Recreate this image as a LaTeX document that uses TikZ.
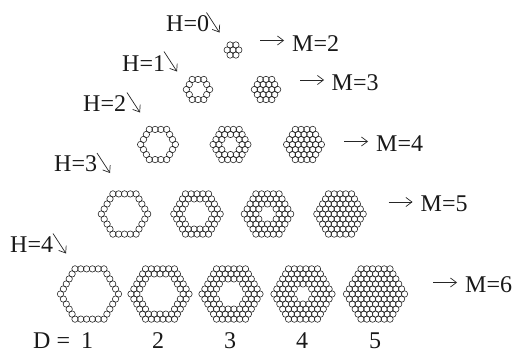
\documentclass[tikz,border=0pt]{standalone}
\usepackage{fontspec}
\usetikzlibrary{arrows.meta}
\setmainfont{Liberation Serif}
\newcommand{\hexcluster}[4]{% cx cy M D
  \pgfmathtruncatemacro{\hexN}{#3-1}
  \pgfmathtruncatemacro{\hexMin}{#4==#3-1 ? 0 : #3-#4}
  \foreach \q in {-\hexN,...,\hexN}{
    \foreach \r in {-\hexN,...,\hexN}{
      \pgfmathtruncatemacro{\ringv}{max(abs(\q),abs(\r),abs(\q+\r))}
      \ifnum\ringv>\hexN\relax\else
        \ifnum\ringv<\hexMin\relax\else
          \pgfmathsetmacro{\px}{#1+5.8*(\q+\r/2)}
          \pgfmathsetmacro{\py}{#2+5.8*0.866*\r}
          \draw[atom] (\px,\py) circle[radius=3.2];
        \fi
      \fi
    }
  }
}
\tikzset{
  atom/.style={draw=black!85,line width=0.6pt},
  lbl/.style={inner sep=0pt,anchor=base west,text depth=0pt,font=\fontsize{24}{24}\selectfont,text=black!90},
  arr/.style={-{Straight Barb[length=6pt,width=9pt]},line width=0.7pt,draw=black!85}
}
\begin{document}
\begin{tikzpicture}[x=1pt,y=-1pt]
\useasboundingbox (0,0) rectangle (513,351);
\hexcluster{233}{50}{2}{1}
\hexcluster{198}{89.5}{3}{1}
\hexcluster{266}{89.5}{3}{2}
\hexcluster{158}{144.5}{4}{1}
\hexcluster{230.5}{144.5}{4}{2}
\hexcluster{304}{144.5}{4}{3}
\hexcluster{124.5}{214}{5}{1}
\hexcluster{197}{214}{5}{2}
\hexcluster{267.5}{214}{5}{3}
\hexcluster{340}{214}{5}{4}
\hexcluster{89.5}{294}{6}{1}
\hexcluster{160}{294}{6}{2}
\hexcluster{231}{294}{6}{3}
\hexcluster{303}{294}{6}{4}
\hexcluster{375.5}{294}{6}{5}
\node[lbl] (h0) at (166,31) {H=0};
\node[lbl] (h1) at (122,71) {H=1};
\node[lbl] (h2) at (83,111.5) {H=2};
\node[lbl] (h3) at (54,171.5) {H=3};
\node[lbl] (h4) at (10,252.5) {H=4};
\node[lbl] (m2) at (292,51) {M=2};
\node[lbl] (m3) at (331.5,90) {M=3};
\node[lbl] (m4) at (376,151.5) {M=4};
\node[lbl] (m5) at (420.5,211.5) {M=5};
\node[lbl] (m6) at (465,292.5) {M=6};
\node[lbl] (d) at (33,348) {D =};
\node[lbl,anchor=base] (d1) at (87,348) {1};
\node[lbl,anchor=base] (d2) at (158,348) {2};
\node[lbl,anchor=base] (d3) at (230,348) {3};
\node[lbl,anchor=base] (d4) at (302,348) {4};
\node[lbl,anchor=base] (d5) at (375,348) {5};
\coordinate (a0s) at (206.5,12.5); \coordinate (a0e) at (219.5,32.5);
\coordinate (a1s) at (164,51.5); \coordinate (a1e) at (177,71.5);
\coordinate (a2s) at (127,92.5); \coordinate (a2e) at (140,112.5);
\coordinate (a3s) at (97,153); \coordinate (a3e) at (110,173);
\coordinate (a4s) at (53,233.5); \coordinate (a4e) at (66,253.5);
\draw[arr] (a0s) -- (a0e);
\draw[arr] (a1s) -- (a1e);
\draw[arr] (a2s) -- (a2e);
\draw[arr] (a3s) -- (a3e);
\draw[arr] (a4s) -- (a4e);
\coordinate (b2s) at (260,40.5); \coordinate (b2e) at (284,40.5);
\coordinate (b3s) at (300,80); \coordinate (b3e) at (324,80);
\coordinate (b4s) at (344,141.5); \coordinate (b4e) at (368,141.5);
\coordinate (b5s) at (388.5,202); \coordinate (b5e) at (412.5,202);
\coordinate (b6s) at (433,282.5); \coordinate (b6e) at (457,282.5);
\draw[arr] (b2s) -- (b2e);
\draw[arr] (b3s) -- (b3e);
\draw[arr] (b4s) -- (b4e);
\draw[arr] (b5s) -- (b5e);
\draw[arr] (b6s) -- (b6e);
\end{tikzpicture}
\end{document}
